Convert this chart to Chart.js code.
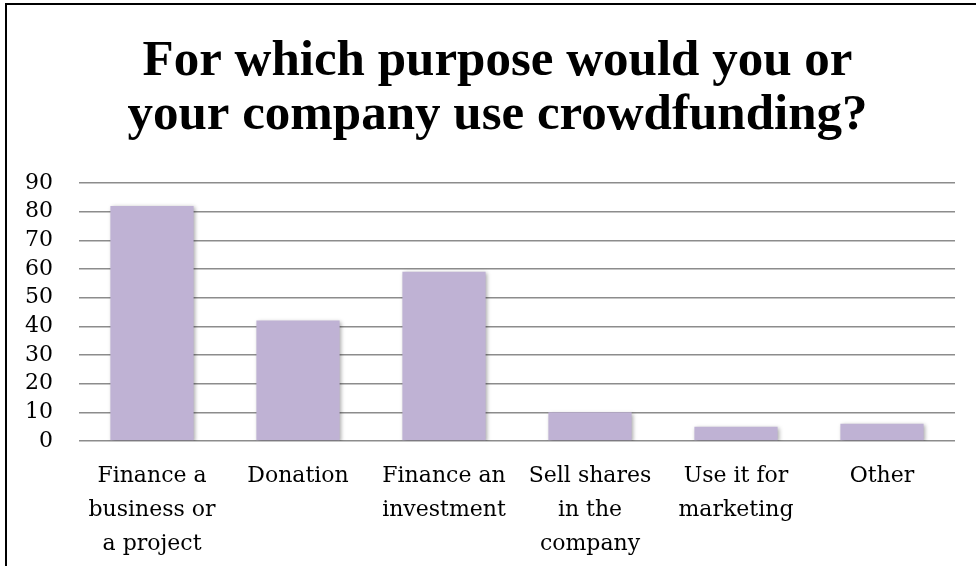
<!DOCTYPE html>
<html>
<head>
<meta charset="utf-8">
<script src="https://cdn.jsdelivr.net/npm/chart.js@4.4.1/dist/chart.umd.min.js"></script>
<style>
    html, body { margin: 0; padding: 0; background: #fff; overflow: hidden; }
    #wrap { position: relative; width: 976px; height: 566px; }
    #frame { position: absolute; left: 5px; top: 3px; width: 990px; height: 600px; border: 2px solid #000; pointer-events: none; }
    canvas { position: absolute; left: 0; top: 0; }
</style>
</head>
<body>
<div id="wrap">
    <canvas id="purposeChart" width="976" height="566"></canvas>
    <div id="frame"></div>
</div>
<script>
const titleLines = ['For which purpose would you or', 'your company use crowdfunding?'];
const categories = [
    ['Finance a', 'business or', 'a project'],
    ['Donation'],
    ['Finance an', 'investment'],
    ['Sell shares', 'in the', 'company'],
    ['Use it for', 'marketing'],
    ['Other']
];
const responses = [82, 42, 59, 10, 5, 6];
const yTicks = [0, 10, 20, 30, 40, 50, 60, 70, 80, 90];

const barColor = 'rgb(191, 178, 212)';
const gridColor = 'rgb(140, 140, 140)';
const labelFont = { family: '"DejaVu Serif", serif', size: 22 };

// soft drop shadow under the bars
const barShadow = {
    id: 'barShadow',
    beforeDatasetsDraw(chart) {
        const c = chart.ctx;
        c.save();
        c.shadowColor = 'rgba(0,0,0,0.35)';
        c.shadowBlur = 4;
        c.shadowOffsetX = 1.5;
        c.shadowOffsetY = 1.5;
    },
    afterDatasetsDraw(chart) { chart.ctx.restore(); }
};

// title sits centred on the whole frame, a bit right of the plot's centre
const titleShift = {
    id: 'titleShift',
    afterLayout(chart) {
        const t = chart.titleBlock;
        if (t) { t.left += 20; t.right += 20; }
    }
};

const ctx = document.getElementById('purposeChart').getContext('2d');
new Chart(ctx, {
    type: 'bar',
    data: {
        labels: categories,
        datasets: [{
            data: responses,
            backgroundColor: barColor,
            borderWidth: 0,
            barPercentage: 0.57,
            categoryPercentage: 1
        }]
    },
    options: {
        responsive: false,
        animation: false,
        layout: { padding: { left: 0, right: 21, top: 0, bottom: 0 } },
        plugins: {
            legend: { display: false },
            tooltip: { enabled: false },
            title: {
                display: true,
                text: titleLines,
                color: '#000',
                font: { family: '"Liberation Serif", serif', size: 51, weight: 'bold', lineHeight: '54px' },
                padding: { top: 35, bottom: 40 }
            }
        },
        scales: {
            x: {
                grid: { display: false, drawTicks: false },
                border: { display: false },
                ticks: { color: '#000', font: { ...labelFont, lineHeight: '34px' }, padding: 18, maxRotation: 0, autoSkip: false },
                afterFit: s => { s.height = 125; }
            },
            y: {
                min: 0,
                max: 90,
                afterBuildTicks: s => { s.ticks = yTicks.map(v => ({ value: v })); },
                grid: { color: gridColor, lineWidth: 1.5, drawTicks: false },
                border: { display: false },
                ticks: { color: '#000', font: labelFont, padding: 26, autoSkip: false },
                afterFit: s => { s.width = 79; }
            }
        }
    },
    plugins: [barShadow, titleShift]
});
</script>
</body>
</html>
